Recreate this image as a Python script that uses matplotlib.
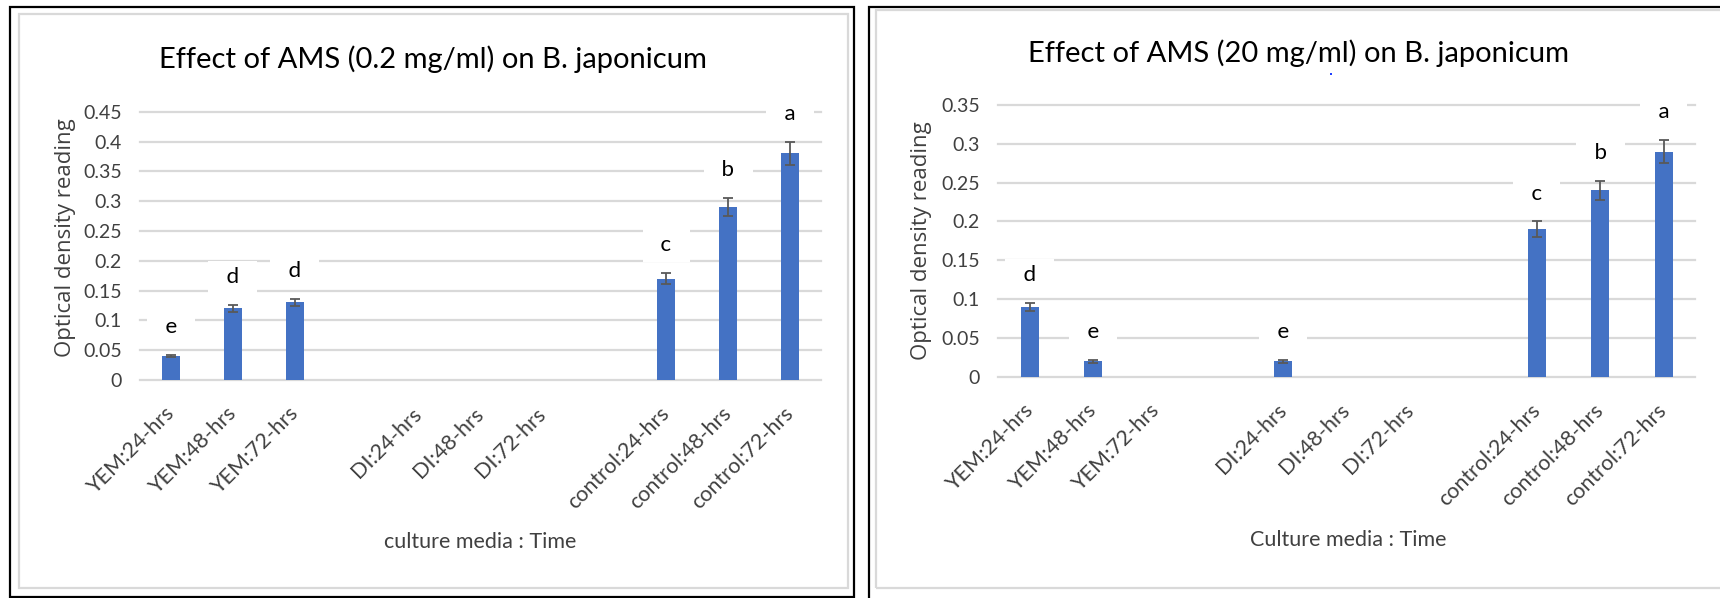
import numpy as np
import matplotlib
matplotlib.use("Agg")
import matplotlib.pyplot as plt
import matplotlib.transforms as mtransforms
from matplotlib.patches import Rectangle
from matplotlib import font_manager

categories = ["YEM:24-hrs", "YEM:48-hrs", "YEM:72-hrs", "",
              "DI:24-hrs", "DI:48-hrs", "DI:72-hrs", "",
              "control:24-hrs", "control:48-hrs", "control:72-hrs"]

# AMS 0.2 mg/ml
low_od = [0.04, 0.12, 0.13, 0, 0, 0, 0, 0, 0.17, 0.29, 0.38]
low_err = [0.002, 0.0055, 0.0065, np.nan, np.nan, np.nan, np.nan, np.nan, 0.009, 0.015, 0.02]
low_letters = ["e", "d", "d", "", "", "", "", "", "c", "b", "a"]

# AMS 20 mg/ml
high_od = [0.09, 0.02, 0, 0, 0.02, 0, 0, 0, 0.19, 0.24, 0.29]
high_err = [0.005, 0.002, np.nan, np.nan, 0.002, np.nan, np.nan, np.nan, 0.01, 0.0125, 0.015]
high_letters = ["d", "e", "", "", "e", "", "", "", "c", "b", "a"]

W, H = 1720, 598
names = {f.name for f in font_manager.fontManager.ttflist}
body_font = "Lato" if "Lato" in names else "DejaVu Sans"
label_font = "Open Sans" if "Open Sans" in names else "DejaVu Sans"
txt_col = "#404040"
bar_col = "#4472C4"
grid_col = "#d9d9d9"

fig = plt.figure(figsize=(W / 100, H / 100), dpi=100)


def px(x, y):
    # pixel (from top-left) -> figure fraction
    return x / W, 1 - y / H


def frame(x0, y0, x1, y1, color, lw):
    fx0, fy0 = px(x0, y1)
    fig.add_artist(Rectangle((fx0, fy0), (x1 - x0) / W, (y1 - y0) / H,
                             transform=fig.transFigure, fill=False,
                             ec=color, lw=lw, clip_on=False))


def panel(rect, vals, errs, letters, ymax):
    ax = fig.add_axes(rect)
    x = np.arange(len(categories))
    ax.bar(x, vals, width=0.29, color=bar_col, zorder=2)
    ax.errorbar(x, vals, yerr=errs, fmt="none", ecolor="#595959",
                elinewidth=1.3, capsize=3.5, capthick=1.3, zorder=3)
    for i, (v, e, lab) in enumerate(zip(vals, errs, letters)):
        if lab:
            ax.annotate("  " + lab + "  ", (i, v + e), xytext=(0, 20),
                        textcoords="offset points", ha="center", va="center",
                        fontsize=16, family=body_font, color="black",
                        bbox=dict(fc="white", ec="none", boxstyle="square,pad=0.3"),
                        zorder=4, annotation_clip=False)
    ax.set_xlim(-0.5, len(categories) - 0.5)
    ax.set_ylim(0, ymax)
    ticks = np.arange(0, ymax + 1e-9, 0.05)
    ax.set_yticks(ticks)
    ax.set_yticklabels([f"{round(t, 2):g}" for t in ticks], family=body_font,
                       fontsize=14, color=txt_col)
    ax.set_xticks(x)
    ax.set_xticklabels(categories, rotation=45, ha="right", va="center",
                       rotation_mode="anchor", family=body_font,
                       fontsize=15.5, color=txt_col)
    shift = mtransforms.ScaledTranslation(0.08, 0, fig.dpi_scale_trans)
    for lab in ax.get_xticklabels():
        lab.set_transform(lab.get_transform() + shift)
    ax.tick_params(length=0)
    ax.tick_params(axis="y", pad=13)
    ax.tick_params(axis="x", pad=22)
    ax.yaxis.grid(True, color=grid_col, lw=1.6)
    ax.set_axisbelow(True)
    for gl in ax.get_ygridlines():
        gl.set_clip_on(False)
    for s in ax.spines.values():
        s.set_visible(False)
    return ax


# left panel
frame(10, 7, 854, 597, "black", 1.6)
frame(19, 14, 848, 588, grid_col, 1.6)
x0, y0 = px(140, 380)
x1, y1 = px(821, 111.7)
panel([x0, y0, x1 - x0, y1 - y0], low_od, low_err, low_letters, 0.45)
fig.text(*px(433, 59), "Effect of AMS (0.2 mg/ml) on B. japonicum", ha="center",
         va="center", fontsize=21, family=body_font, color="black")
fig.text(*px(65, 238), "Optical density reading", rotation=90, ha="center",
         va="center", fontsize=16, family=label_font, color=txt_col)
fig.text(*px(480, 542), "culture media : Time", ha="center", va="center",
         fontsize=15.5, family=body_font, color=txt_col)

# right panel
frame(869, 7, 1730, 610, "black", 1.6)
frame(876, 10, 1725, 588, grid_col, 1.6)
x0, y0 = px(998, 376.7)
x1, y1 = px(1695.4, 105)
panel([x0, y0, x1 - x0, y1 - y0], high_od, high_err, high_letters, 0.35)
fig.text(*px(1299, 53), "Effect of AMS (20 mg/ml) on B. japonicum", ha="center",
         va="center", fontsize=21, family=body_font, color="black")
fig.text(*px(922, 241), "Optical density reading", rotation=90, ha="center",
         va="center", fontsize=16, family=label_font, color=txt_col)
fig.text(*px(1348, 540), "Culture media : Time", ha="center", va="center",
         fontsize=15.5, family=body_font, color=txt_col)
fig.add_artist(Rectangle(px(1330, 75), 2 / W, 2 / H, transform=fig.transFigure,
                         color="#1f3fff", lw=0))

fig.savefig("out.png", dpi=100)
